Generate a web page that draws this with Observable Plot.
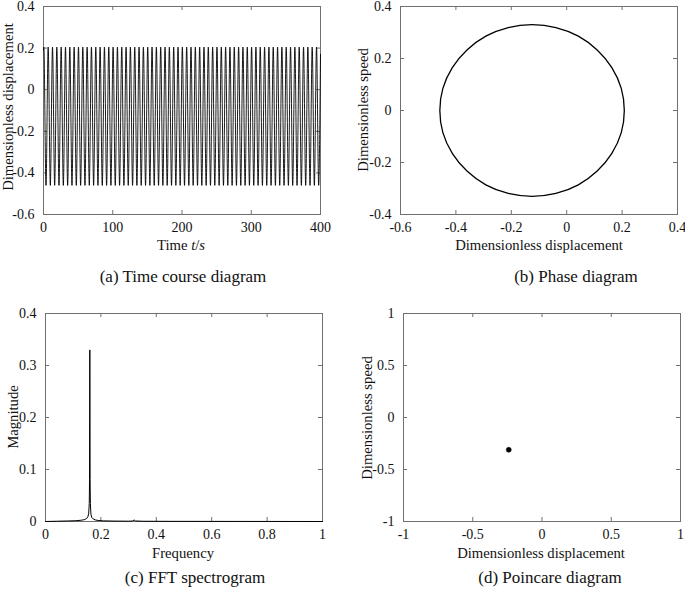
<!DOCTYPE html>
<html>
<head>
<meta charset="utf-8">
<script src="https://cdn.jsdelivr.net/npm/d3@7"></script>
<script src="https://cdn.jsdelivr.net/npm/@observablehq/plot@0.6"></script>
<style>
  html, body { margin: 0; padding: 0; background: #fff; }
  #fig { position: relative; width: 685px; height: 598px; overflow: hidden; background: #fff;
         font-family: "Liberation Serif", "Times New Roman", serif; color: #111; }
  .lab { position: absolute; white-space: nowrap; line-height: 1; transform: translate(-50%, -50%); }
  .rot { transform: translate(-50%, -50%) rotate(-90deg); }
</style>
</head>
<body>
<div id="fig"></div>
<script>
// ---------- data ----------
// (a) time course: times of the maxima and minima of the steady oscillation
const peakTimes = [0.5, 6.75, 13, 19.25, 25.5, 31.75, 38, 44.25, 50.5, 56.75, 63, 69.25, 75.5, 81.75, 88, 94.25,
  100.5, 106.75, 113, 119.25, 125.5, 131.75, 138, 144.25, 150.5, 156.75, 163, 169.25, 175.5, 181.75, 188, 194.25,
  200.5, 206.75, 213, 219.25, 225.5, 231.75, 238, 244.25, 250.5, 256.75, 263, 269.25, 275.5, 281.75, 288, 294.25,
  300.5, 306.75, 313, 319.25, 325.5, 331.75, 338, 344.25, 350.5, 356.75, 363, 369.25, 375.5, 381.75, 388, 394.25];
const troughTimes = [3.625, 9.875, 16.125, 22.375, 28.625, 34.875, 41.125, 47.375, 53.625, 59.875, 66.125, 72.375,
  78.625, 84.875, 91.125, 97.375, 103.625, 109.875, 116.125, 122.375, 128.625, 134.875, 141.125, 147.375, 153.625,
  159.875, 166.125, 172.375, 178.625, 184.875, 191.125, 197.375, 203.625, 209.875, 216.125, 222.375, 228.625,
  234.875, 241.125, 247.375, 253.625, 259.875, 266.125, 272.375, 278.625, 284.875, 291.125, 297.375, 303.625,
  309.875, 316.125, 322.375, 328.625, 334.875, 341.125, 347.375, 353.625, 359.875, 366.125, 372.375, 378.625,
  384.875, 391.125, 397.375];
const peakValue = 0.205;
const troughValue = -0.46;
const startPoint = [0, 0.19];
const endPoint = [400, 0.17];

// (b) phase trajectory (displacement, speed)
const phaseX = [0.208, 0.197, 0.163, 0.110, 0.042, -0.039, -0.125, -0.211, -0.292, -0.360, -0.413, -0.447,
  -0.458, -0.447, -0.413, -0.360, -0.292, -0.211, -0.125, -0.039, 0.042, 0.110, 0.163, 0.197];
const phaseY = [0, 0.085, 0.165, 0.233, 0.286, 0.319, 0.330, 0.319, 0.286, 0.233, 0.165, 0.085,
  0, -0.085, -0.165, -0.233, -0.286, -0.319, -0.330, -0.319, -0.286, -0.233, -0.165, -0.085];

// (c) FFT spectrum
const fftFreq = [0, 0.04, 0.08, 0.11, 0.13, 0.14, 0.148, 0.153, 0.156, 0.158, 0.159, 0.16, 0.161, 0.162, 0.164,
  0.167, 0.172, 0.18, 0.19, 0.21, 0.25, 0.3, 0.315, 0.32, 0.325, 0.35, 0.45, 0.6, 0.8, 1];
const fftMag = [0, 0.0005, 0.001, 0.0015, 0.0025, 0.0035, 0.0055, 0.009, 0.016, 0.035, 0.08, 0.33, 0.08, 0.035,
  0.014, 0.008, 0.005, 0.003, 0.002, 0.0012, 0.0008, 0.0006, 0.001, 0.003, 0.001, 0.0005, 0.0003, 0.0002, 0.0001, 0];

// (d) Poincare section
const poincareX = [-0.24];
const poincareY = [-0.31];

// ticks
const ticksA_x = [0, 100, 200, 300, 400];
const ticksA_y = [-0.6, -0.4, -0.2, 0, 0.2, 0.4];
const ticksB_x = [-0.6, -0.4, -0.2, 0, 0.2, 0.4];
const ticksB_y = [-0.4, -0.2, 0, 0.2, 0.4];
const ticksC_x = [0, 0.2, 0.4, 0.6, 0.8, 1];
const ticksC_y = [0, 0.1, 0.2, 0.3, 0.4];
const ticksD_x = [-1, -0.5, 0, 0.5, 1];
const ticksD_y = [-1, -0.5, 0, 0.5, 1];

// ---------- build tables ----------
const timeCourse = [
  {t: startPoint[0], x: startPoint[1]},
  ...peakTimes.map(t => ({t, x: peakValue})),
  ...troughTimes.map(t => ({t, x: troughValue})),
  {t: endPoint[0], x: endPoint[1]}
].sort((a, b) => a.t - b.t);
const phase = phaseX.map((x, i) => ({x, v: phaseY[i]}));
const fft = fftFreq.map((f, i) => ({f, m: fftMag[i]}));
const poincare = poincareX.map((x, i) => ({x, v: poincareY[i]}));

// ---------- layout ----------
const fig = document.getElementById("fig");
const FRAME = "#707070";
const fmt = d => String(d);

function panel({left, top, w, h, ml, mt, mr, mb, xDomain, yDomain, xTicks, yTicks, marks}) {
  const chart = Plot.plot({
    width: ml + w + mr,
    height: mt + h + mb,
    marginLeft: ml, marginTop: mt, marginRight: mr, marginBottom: mb,
    x: {domain: xDomain, ticks: xTicks, tickSize: 0, tickPadding: 8, tickFormat: fmt, label: null},
    y: {domain: yDomain, ticks: yTicks, tickSize: 0, tickPadding: 9, tickFormat: fmt, label: null},
    style: {background: "transparent", fontFamily: "'Liberation Serif', 'Times New Roman', serif",
            fontSize: "14px", color: "#111", overflow: "visible"},
    marks: [
      Plot.frame({stroke: FRAME}),
      Plot.tickX(xTicks, {x: d => d, insetTop: h - 4, stroke: FRAME}),
      Plot.tickX(xTicks, {x: d => d, insetBottom: h - 4, stroke: FRAME}),
      Plot.tickY(yTicks, {y: d => d, insetRight: w - 4, stroke: FRAME}),
      Plot.tickY(yTicks, {y: d => d, insetLeft: w - 4, stroke: FRAME}),
      ...marks
    ]
  });
  chart.style.position = "absolute";
  chart.style.left = (left - ml) + "px";
  chart.style.top = (top - mt) + "px";
  fig.appendChild(chart);
}

function label(html, cx, cy, size, rotate) {
  const d = document.createElement("div");
  d.className = "lab" + (rotate ? " rot" : "");
  d.style.left = cx + "px";
  d.style.top = cy + "px";
  d.style.fontSize = size + "px";
  d.innerHTML = html;
  fig.appendChild(d);
}

// (a) time course
panel({left: 43, top: 6, w: 277, h: 208, ml: 43, mt: 6, mr: 20, mb: 26,
  xDomain: [0, 400], yDomain: [-0.6, 0.4], xTicks: ticksA_x, yTicks: ticksA_y,
  marks: [Plot.line(timeCourse, {x: "t", y: "x", curve: "monotone-x", stroke: "#000", strokeWidth: 0.9})]});

// (b) phase diagram
panel({left: 400, top: 6, w: 277, h: 208, ml: 60, mt: 6, mr: 8, mb: 26,
  xDomain: [-0.6, 0.4], yDomain: [-0.4, 0.4], xTicks: ticksB_x, yTicks: ticksB_y,
  marks: [Plot.line(phase, {x: "x", y: "v", curve: "catmull-rom-closed", stroke: "#000", strokeWidth: 1.3})]});

// (c) FFT spectrogram
panel({left: 45, top: 313, w: 277, h: 208, ml: 45, mt: 10, mr: 20, mb: 26,
  xDomain: [0, 1], yDomain: [0, 0.4], xTicks: ticksC_x, yTicks: ticksC_y,
  marks: [Plot.line(fft, {x: "f", y: "m", stroke: "#000", strokeWidth: 1})]});

// (d) Poincare diagram
panel({left: 403, top: 313, w: 277, h: 208, ml: 60, mt: 10, mr: 5, mb: 26,
  xDomain: [-1, 1], yDomain: [-1, 1], xTicks: ticksD_x, yTicks: ticksD_y,
  marks: [Plot.dot(poincare, {x: "x", y: "v", r: 2.5, fill: "#000", stroke: "#000", strokeWidth: 0.5})]});

// axis titles
label("Dimensionless displacement", 8, 107, 14.7, true);
label("Time <i>t</i>/<i>s</i>", 181, 245, 14.7, false);
label("Dimensionless speed", 363, 110, 14.7, true);
label("Dimensionless displacement", 539, 245, 14.7, false);
label("Magnitude", 13, 417, 14.7, true);
label("Frequency", 183, 553, 14.7, false);
label("Dimensionless speed", 367, 418, 14.7, true);
label("Dimensionless displacement", 541, 553, 14.7, false);

// captions
label("(a) Time course diagram", 183, 276, 17, false);
label("(b) Phase diagram", 576, 276, 17, false);
label("(c) FFT spectrogram", 195, 577, 17, false);
label("(d) Poincare diagram", 550, 577, 17, false);
</script>
</body>
</html>
